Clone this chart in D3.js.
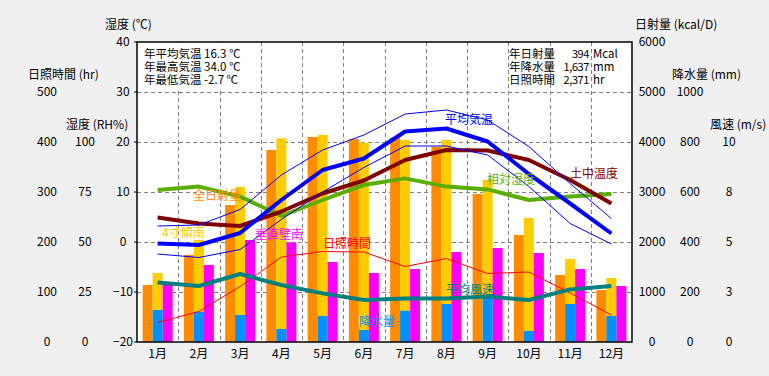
<!DOCTYPE html>
<html>
<head>
<meta charset="utf-8">
<script src="https://cdn.jsdelivr.net/npm/d3@7"></script>
<style>
  body { margin: 0; background: #f0f0f0; }
  svg { display: block; font-family: "Noto Sans CJK JP", sans-serif; font-size: 12px; }
</style>
</head>
<body>
<svg width="769" height="376"></svg>
<script>
// data
let months = ['1月', '2月', '3月', '4月', '5月', '6月', '7月', '8月', '9月', '10月', '11月', '12月'];
let solarAll = [1140, 1740, 2740, 3840, 4100, 4060, 4087, 3907, 2960, 2140, 1340, 1040];
let solarTilt = [1380, 2040, 3100, 4073, 4140, 3987, 4040, 4040, 3240, 2480, 1660, 1280];
let solarWall = [1140, 1540, 2040, 1993, 1600, 1380, 1460, 1800, 1880, 1780, 1460, 1120];
let precip = [128, 121, 108, 52, 104, 48, 125, 152, 184, 44, 152, 104];
let tempMean = [-0.3, -0.6, 1.8, 8.4, 14.4, 16.7, 22.1, 22.7, 20.1, 13.6, 7.7, 1.7];
let tempMax = [3.2, 3.4, 6.5, 13.4, 18.4, 21.4, 25.6, 26.4, 24.4, 19.1, 11.7, 4.7];
let tempMin = [-2.4, -3.1, -1.5, 4.5, 10.0, 14.9, 19.2, 19.2, 17.4, 11.1, 3.7, -0.4];
let soilTemp = [4.9, 3.7, 3.2, 6.1, 9.7, 12.3, 16.4, 18.4, 18.3, 16.4, 12.4, 7.7];
let humidity = [76, 77.7, 72.7, 63, 71, 78.5, 81.8, 77.7, 76.3, 71, 72.7, 74];
let wind = [2.98, 2.8, 3.4, 2.85, 2.43, 2.1, 2.18, 2.18, 2.27, 2.1, 2.63, 2.8];
let sunshine = [39, 61, 111, 170, 181, 180, 151, 167, 137, 140, 98, 54];

let tempTicks = [-20, -10, 0, 10, 20, 30, 40];
let sunTicks = [0, 100, 200, 300, 400, 500];
let humTicks = [0, 25, 50, 75, 100];
let solarTicks = [0, 1000, 2000, 3000, 4000, 5000, 6000];
let precipTicks = [0, 200, 400, 600, 800, 1000];
let windTicks = [0, 2.5, 5, 7.5, 10];

let leftInfo = ['年平均気温 16.3 ℃', '年最高気温 34.0 ℃', '年最低気温 -2.7 ℃'];
let rightInfoName = ['年日射量', '年降水量', '日照時間'];
let rightInfoValue = ['394', '1,637', '2,371'];
let rightInfoUnit = ['Mcal', 'mm', 'hr'];

let plotLeft = 137, plotRight = 632, plotTop = 42, plotBottom = 342;

let svg = d3.select('svg');

let xScale = d3.scaleBand().domain(months).range([plotLeft, plotRight]);
let bw = xScale.bandwidth();
let inner = d3.scaleBand().domain(['all', 'tilt', 'wall']).range([0, 30]);
let cx = (m) => xScale(m) + bw / 2;

let yTemp = d3.scaleLinear().domain([-20, 40]).range([plotBottom, plotTop]);
let ySun = d3.scaleLinear().domain([0, 600]).range([plotBottom, plotTop]);
let yHum = d3.scaleLinear().domain([0, 150]).range([plotBottom, plotTop]);
let ySolar = d3.scaleLinear().domain([0, 6000]).range([plotBottom, plotTop]);
let yPrecip = d3.scaleLinear().domain([0, 1200]).range([plotBottom, plotTop]);
let yWind = d3.scaleLinear().domain([0, 15]).range([plotBottom, plotTop]);

// plot background
svg.append('rect')
    .attr('x', plotLeft).attr('y', plotTop)
    .attr('width', plotRight - plotLeft).attr('height', plotBottom - plotTop)
    .attr('fill', '#ffffff');

// grid
let grid = svg.append('g')
    .attr('stroke', '#808080')
    .attr('stroke-dasharray', '4,3');
grid.selectAll()
    .data(tempTicks.slice(1, -1))
    .enter()
    .append('line')
    .attr('x1', plotLeft).attr('x2', plotRight)
    .attr('y1', (d) => Math.round(yTemp(d)) + 0.5)
    .attr('y2', (d) => Math.round(yTemp(d)) + 0.5);
grid.selectAll()
    .data(months.slice(1))
    .enter()
    .append('line')
    .attr('x1', (m) => Math.round(xScale(m)) + 0.5)
    .attr('x2', (m) => Math.round(xScale(m)) + 0.5)
    .attr('y1', plotTop).attr('y2', plotBottom);

// info box on the left hides the grid under it
svg.append('rect')
    .attr('x', plotLeft + 1).attr('y', plotTop + 1)
    .attr('width', 107).attr('height', 48)
    .attr('fill', '#ffffff');
svg.append('g')
    .style('font-size', '11.5px')
    .selectAll()
    .data(leftInfo)
    .enter()
    .append('text')
    .attr('x', 144)
    .attr('y', (d, i) => 58 + i * 13)
    .text((d) => d);

let rInfo = svg.append('g').style('font-size', '11.5px');
rInfo.selectAll()
    .data(rightInfoName)
    .enter()
    .append('text')
    .attr('x', 509)
    .attr('y', (d, i) => 58 + i * 13)
    .text((d) => d);
rInfo.selectAll()
    .data(rightInfoValue)
    .enter()
    .append('text')
    .attr('x', 589)
    .attr('y', (d, i) => 58 + i * 13)
    .attr('text-anchor', 'end')
    .style('font-size', '11px')
    .style('letter-spacing', '-0.4px')
    .text((d) => d);
rInfo.selectAll()
    .data(rightInfoUnit)
    .enter()
    .append('text')
    .attr('x', 593)
    .attr('y', (d, i) => 58 + i * 13)
    .text((d) => d);

// bars
let barGroups = [
    { key: 'all', values: solarAll, color: '#ff8c00' },
    { key: 'tilt', values: solarTilt, color: '#ffcc00' },
    { key: 'wall', values: solarWall, color: '#ff00ff' }
];
barGroups.forEach(function (g) {
    svg.append('g')
        .selectAll()
        .data(months)
        .enter()
        .append('rect')
        .attr('x', (m) => xScale(m) + (bw - 30) / 2 + inner(g.key))
        .attr('y', (m, i) => ySolar(g.values[i]))
        .attr('width', inner.bandwidth())
        .attr('height', (m, i) => plotBottom - ySolar(g.values[i]))
        .attr('fill', g.color);
});
svg.append('g')
    .selectAll()
    .data(months)
    .enter()
    .append('rect')
    .attr('x', (m) => xScale(m) + (bw - 30) / 2 + inner('tilt'))
    .attr('y', (m, i) => yPrecip(precip[i]))
    .attr('width', inner.bandwidth())
    .attr('height', (m, i) => plotBottom - yPrecip(precip[i]))
    .attr('fill', '#0090ff');

// lines
function drawLine(values, scale, color, width) {
    let line = d3.line()
        .x((d, i) => cx(months[i]))
        .y((d) => scale(d));
    svg.append('path')
        .datum(values)
        .attr('d', line)
        .attr('fill', 'none')
        .attr('stroke', color)
        .attr('stroke-width', width)
        .attr('stroke-linejoin', 'round');
}
drawLine(humidity, yHum, '#5aae00', 4);
drawLine(sunshine, ySun, '#ff0000', 1);
drawLine(wind, yWind, '#008080', 4);
drawLine(soilTemp, yTemp, '#800000', 4);
drawLine(tempMax, yTemp, '#0000ff', 1);
drawLine(tempMin, yTemp, '#0000ff', 1);
drawLine(tempMean, yTemp, '#0000ff', 4);

// series labels
let seriesLabels = [
    { text: '全日射量', x: 193, y: 200, color: '#ff8c00' },
    { text: '4寸傾南', x: 162, y: 237, color: '#ffcc00' },
    { text: '垂直壁南', x: 255, y: 239, color: '#ff00ff' },
    { text: '日照時間', x: 323, y: 248, color: '#ff0000' },
    { text: '降水量', x: 359, y: 326, color: '#0090ff' },
    { text: '平均気温', x: 445, y: 124, color: '#0000ff' },
    { text: '相対湿度', x: 487, y: 184, color: '#5aae00' },
    { text: '土中温度', x: 570, y: 178, color: '#800000' },
    { text: '平均風速', x: 446, y: 294, color: '#008080' }
];
svg.append('g')
    .selectAll()
    .data(seriesLabels)
    .enter()
    .append('text')
    .attr('x', (d) => d.x)
    .attr('y', (d) => d.y)
    .attr('fill', (d) => d.color)
    .text((d) => d.text);

// frame
svg.append('rect')
    .attr('x', plotLeft).attr('y', plotTop)
    .attr('width', plotRight - plotLeft).attr('height', plotBottom - plotTop)
    .attr('fill', 'none')
    .attr('stroke', '#000000')
    .attr('stroke-width', 1.5);

// axes
function drawAxis(scale, ticks, xPos, fmt) {
    let g = svg.append('g')
        .attr('transform', `translate(${xPos}, 0)`)
        .call(d3.axisLeft(scale).tickValues(ticks).tickSize(0).tickFormat(fmt));
    g.select('.domain').remove();
    g.selectAll('text')
        .attr('x', 0)
        .attr('text-anchor', 'middle')
        .style('font-family', '"Noto Sans CJK JP", sans-serif')
        .style('font-size', '12px')
        .attr('fill', '#000000');
}
drawAxis(ySun, sunTicks, 47, (d) => d);
drawAxis(yHum, humTicks, 85, (d) => d);
drawAxis(yTemp, tempTicks, 123, (d) => d < 0 ? '−' + Math.abs(d) : d);
drawAxis(ySolar, solarTicks, 652, (d) => d);
drawAxis(yPrecip, precipTicks, 690, (d) => d);
drawAxis(yWind, windTicks, 729, (d) => Math.round(d));

// small ticks outside the left frame
svg.append('g')
    .selectAll()
    .data(tempTicks)
    .enter()
    .append('line')
    .attr('x1', plotLeft - 3).attr('x2', plotLeft)
    .attr('y1', (d) => yTemp(d)).attr('y2', (d) => yTemp(d))
    .attr('stroke', '#000000');

let xAxis = svg.append('g')
    .attr('transform', `translate(0, ${plotBottom + 4})`)
    .call(d3.axisBottom(xScale).tickSize(0));
xAxis.select('.domain').remove();
xAxis.selectAll('text')
    .style('font-family', '"Noto Sans CJK JP", sans-serif')
    .style('font-size', '12px')
    .attr('fill', '#000000');

// axis titles
let titles = [
    { text: '湿度 (℃)', x: 105, y: 29 },
    { text: '日照時間 (hr)', x: 28, y: 79 },
    { text: '湿度 (RH%)', x: 66, y: 129 },
    { text: '日射量 (kcal/D)', x: 635, y: 29 },
    { text: '降水量 (mm)', x: 672, y: 79 },
    { text: '風速 (m/s)', x: 710, y: 129 }
];
svg.append('g')
    .selectAll()
    .data(titles)
    .enter()
    .append('text')
    .attr('x', (d) => d.x)
    .attr('y', (d) => d.y)
    .text((d) => d.text);
</script>
</body>
</html>
